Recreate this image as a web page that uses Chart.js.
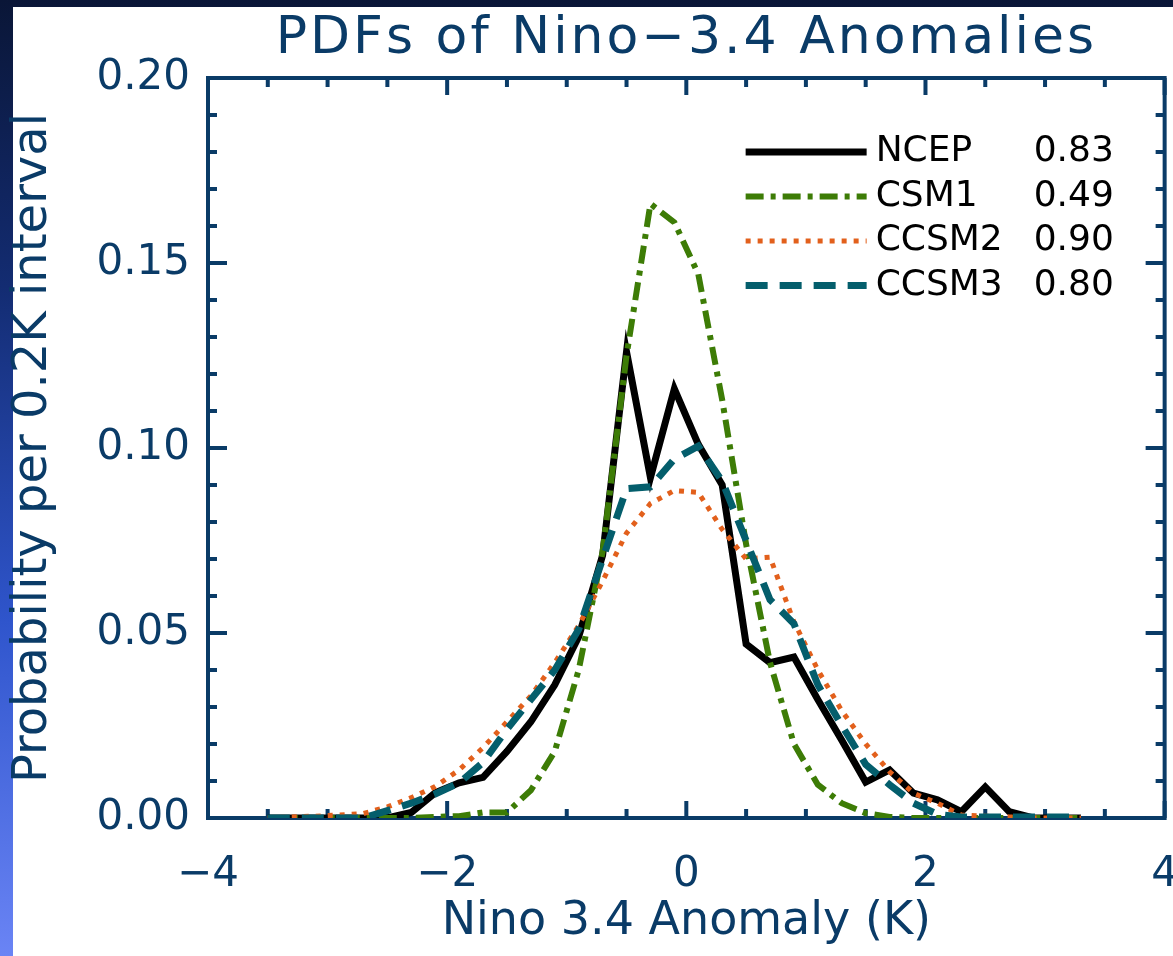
<!DOCTYPE html>
<html>
<head>
<meta charset="utf-8">
<title>PDFs of Nino-3.4 Anomalies</title>
<script src="https://cdn.jsdelivr.net/npm/chart.js@4"></script>
<style>
html, body { margin: 0; padding: 0; overflow: hidden; }
body {
  width: 1173px; height: 956px; position: relative;
  background: linear-gradient(to bottom, #0a1637 0%, #132c72 30%, #2f55cc 65%, #6a84f5 100%);
}
#paper { position: absolute; left: 13px; top: 7px; right: 0; bottom: 0; background: #fff; }
#box { position: absolute; left: 0; top: 0; width: 1210px; height: 956px; }
</style>
</head>
<body>
<div id="paper"></div>
<div id="box"><canvas id="pdfChart" width="1210" height="956"></canvas></div>
<script>
// bin centres (K), 0.2K bins
const binCenters = [-3.5, -3.3, -3.1, -2.9, -2.7, -2.5, -2.3, -2.1, -1.9, -1.7,
  -1.5, -1.3, -1.1, -0.9, -0.7, -0.5, -0.3, -0.1, 0.1, 0.3,
  0.5, 0.7, 0.9, 1.1, 1.3, 1.5, 1.7, 1.9, 2.1, 2.3,
  2.5, 2.7, 2.9, 3.1, 3.3];

const ncep = [0, 0, 0, 0, 0, 0, 0.0015, 0.0068, 0.0095, 0.011,
  0.018, 0.026, 0.036, 0.049, 0.071, 0.126, 0.092, 0.116, 0.101, 0.090,
  0.047, 0.042, 0.0435, 0.032, 0.021, 0.0097, 0.013, 0.0067, 0.0049, 0.0017,
  0.0084, 0.0017, 0, 0, 0];

const csm1 = [0, 0, 0, 0, 0, 0, 0, 0.0003, 0.0005, 0.0015,
  0.0015, 0.0075, 0.018, 0.040, 0.072, 0.125, 0.166, 0.161, 0.147, 0.113,
  0.074, 0.042, 0.020, 0.009, 0.004, 0.0013, 0.0003, 0, 0, 0,
  0, 0, 0, 0, 0];

const ccsm2 = [0, 0.0003, 0.0005, 0.0008, 0.0012, 0.003, 0.0055, 0.0085, 0.013, 0.019,
  0.026, 0.033, 0.042, 0.052, 0.064, 0.077, 0.085, 0.0885, 0.088, 0.078,
  0.070, 0.0705, 0.053, 0.040, 0.029, 0.020, 0.0125, 0.0067, 0.004, 0.0008,
  0.0005, 0.0003, 0, 0, 0];

const ccsm3 = [0, 0, 0, 0, 0, 0.002, 0.004, 0.0065, 0.0095, 0.015,
  0.024, 0.032, 0.040, 0.051, 0.070, 0.089, 0.0895, 0.097, 0.1005, 0.091,
  0.075, 0.059, 0.0525, 0.036, 0.025, 0.0145, 0.009, 0.004, 0.001, 0.0003,
  0.0003, 0.0003, 0.0003, 0.0003, 0.0003];

const seriesNames = ["NCEP", "CSM1", "CCSM2", "CCSM3"];
const skillScores = [0.83, 0.49, 0.90, 0.80];

const xTickValues = [-4, -2, 0, 2, 4];
const yTickValues = [0, 0.05, 0.10, 0.15, 0.20];

const navy = "#0a3b67";
const FONT = "'DejaVu Sans', sans-serif";

function toPoints(vals) {
  return vals.map((v, i) => ({ x: binCenters[i], y: v }));
}

// axis box with inward major/minor ticks, legend and title
const idlFrame = {
  id: "idlFrame",
  beforeDatasetsDraw(chart) {
    const { ctx, chartArea: a, scales: { x, y } } = chart;
    ctx.save();
    ctx.strokeStyle = navy;
    ctx.lineWidth = 4;
    ctx.lineCap = "butt";
    ctx.strokeRect(a.left, a.top, a.right - a.left, a.bottom - a.top);
    ctx.beginPath();
    for (let k = -8; k <= 8; k++) {
      const px = x.getPixelForValue(k / 2);
      const len = k % 4 === 0 ? 17 : 9;
      ctx.moveTo(px, a.bottom); ctx.lineTo(px, a.bottom - len);
      ctx.moveTo(px, a.top); ctx.lineTo(px, a.top + len);
    }
    for (let k = 0; k <= 20; k++) {
      const py = y.getPixelForValue(k / 100);
      const len = k % 5 === 0 ? 19 : 9;
      ctx.moveTo(a.left, py); ctx.lineTo(a.left + len, py);
      ctx.moveTo(a.right, py); ctx.lineTo(a.right - len, py);
    }
    ctx.stroke();
    ctx.restore();
  },
  afterDraw(chart) {
    const { ctx, chartArea: a } = chart;
    ctx.save();
    // title
    ctx.fillStyle = navy;
    ctx.font = "52px " + FONT;
    ctx.textAlign = "center";
    ctx.textBaseline = "alphabetic";
    if ("letterSpacing" in ctx) ctx.letterSpacing = "3px";
    ctx.fillText("PDFs of Nino\u22123.4 Anomalies", (a.left + a.right) / 2, 53);
    if ("letterSpacing" in ctx) ctx.letterSpacing = "0px";

    // legend: line sample, name, score
    ctx.font = "36px " + FONT;
    ctx.textAlign = "left";
    const x0 = a.right - 419, x1 = a.right - 298;
    seriesNames.forEach((name, i) => {
      const ds = chart.data.datasets.find(d => d.label === name);
      const yy = a.top + 74 + i * 44.5;
      ctx.beginPath();
      ctx.strokeStyle = ds.borderColor;
      ctx.lineWidth = ds.borderWidth;
      ctx.lineCap = "butt";
      ctx.setLineDash(ds.borderDash || []);
      ctx.moveTo(x0, yy); ctx.lineTo(x1, yy);
      ctx.stroke();
      ctx.setLineDash([]);
      ctx.fillStyle = "#000";
      ctx.fillText(name, a.right - 289, yy + 9);
      ctx.fillText(skillScores[i].toFixed(2), a.right - 131, yy + 9);
    });
    ctx.restore();
  }
};

new Chart(document.getElementById("pdfChart"), {
  type: "line",
  data: {
    datasets: [
      { label: "NCEP", data: toPoints(ncep), borderColor: "#000000", borderWidth: 7,
        borderDash: [], order: 4 },
      { label: "CSM1", data: toPoints(csm1), borderColor: "#3d7c06", borderWidth: 6,
        borderDash: [18, 7, 5, 7], order: 3 },
      { label: "CCSM2", data: toPoints(ccsm2), borderColor: "#e2601c", borderWidth: 5,
        borderDash: [5, 7], order: 2 },
      { label: "CCSM3", data: toPoints(ccsm3), borderColor: "#045e6c", borderWidth: 7,
        borderDash: [22, 12], order: 1 }
    ]
  },
  options: {
    responsive: false,
    animation: false,
    layout: { padding: { top: 78, right: 0, bottom: 0, left: 0 } },
    elements: {
      point: { radius: 0 },
      line: { tension: 0, borderCapStyle: "butt", borderJoinStyle: "miter", fill: false }
    },
    plugins: { legend: { display: false }, tooltip: { enabled: false } },
    scales: {
      x: {
        type: "linear",
        min: -4, max: 4,
        afterBuildTicks: s => { s.ticks = xTickValues.map(v => ({ value: v })); },
        afterFit: s => { s.height = 138; },
        grid: { display: false, drawTicks: false },
        border: { display: false },
        ticks: {
          color: navy, padding: 32, maxRotation: 0,
          font: { family: FONT, size: 42 },
          callback: v => (v < 0 ? "\u2212" + Math.abs(v) : String(v))
        },
        title: {
          display: true, text: "Nino 3.4 Anomaly (K)", color: navy,
          font: { family: FONT, size: 46 }, padding: { top: 0, bottom: 6 }
        }
      },
      y: {
        min: 0, max: 0.2,
        afterBuildTicks: s => { s.ticks = yTickValues.map(v => ({ value: v })); },
        afterFit: s => { s.width = 208; },
        grid: { display: false, drawTicks: false },
        border: { display: false },
        ticks: {
          color: navy, padding: 18,
          font: { family: FONT, size: 42 },
          callback: v => v.toFixed(2)
        },
        title: {
          display: true, text: "Probability per 0.2K interval", color: navy,
          font: { family: FONT, size: 48 }, padding: { top: 5, bottom: 0 }
        }
      }
    }
  },
  plugins: [idlFrame]
});
</script>
</body>
</html>
